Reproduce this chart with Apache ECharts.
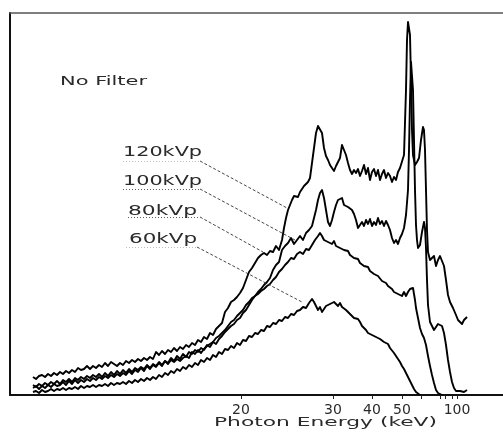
<!DOCTYPE html>
<html>
<head>
<meta charset="utf-8">
<script src="https://cdn.jsdelivr.net/npm/echarts@6/dist/echarts.min.js"></script>
<style>
  html, body { margin: 0; padding: 0; background: #fff; }
  #chart { width: 503px; height: 435px; }
</style>
</head>
<body>
<div id="chart"></div>
<script>
// Spectra as [MCA channel, relative counts]
const kvp120 = [
  [23,18],[26,16],[29,19],[32,20],[35,18],[38,21],[41,19],[44,22],[47,20],[50,23],[53,21],[56,24],[59,22],[62,25],[65,23],[68,27],[71,25],[74,26],[77,29],[80,26],[83,29],[86,27],[89,30],[92,28],[95,32],[98,29],[101,33],[104,31],[107,29],[110,32],[113,30],[116,34],[119,32],[122,35],[125,33],[128,36],[131,34],[134,37],[137,35],[140,38],[143,36],[146,43],[149,40],[152,44],[155,41],[158,45],[161,43],[164,47],[167,44],[170,48],[173,46],[176,50],[179,48],[182,52],[185,50],[188,55],[191,53],[194,58],[197,56],[200,62],[203,60],[206,66],[209,69],[212,72],[215,83],[218,87],[221,93],[224,95],[227,98],[230,102],[233,107],[236,115],[239,123],[242,127],[245,132],[248,137],[251,140],[254,142],[257,140],[260,144],[263,143],[266,149],[269,145],[272,155],[274,167],[276,177],[278,185],[280,190],[282,195],[284,199],[286,201],[288,198],[290,203],[292,205],[294,209],[296,211],[298,213],[300,217],[302,232],[304,247],[306,262],[308,269],[310,270],[312,262],[314,247],[316,239],[318,235],[320,230],[322,227],[324,224],[326,229],[328,231],[330,237],[332,250],[334,252],[336,240],[338,232],[340,225],[342,221],[344,225],[346,222],[348,226],[350,219],[352,224],[354,230],[356,221],[358,227],[360,215],[362,223],[364,226],[366,219],[368,225],[370,215],[372,221],[374,225],[376,217],[378,222],[380,219],[382,213],[384,218],[386,215],[388,223],[390,227],[392,229],[394,240],[396,305],[397,355],[398,373],[399,374],[400,360],[401,315],[402,265],[403,240],[405,230],[407,233],[409,237],[411,255],[413,268],[414,265],[415,245],[416,205],[417,165],[418,143],[420,135],[422,133],[424,139],[426,129],[428,135],[430,139],[432,138],[434,129],[436,115],[438,100],[440,93],[443,87],[446,80],[448,75],[450,73],[452,71],[454,75],[456,77],[457,78]
];
const kvp100 = [
  [23,10],[26,8],[29,11],[32,9],[35,12],[38,10],[41,13],[44,11],[47,14],[50,11],[53,15],[56,13],[59,16],[62,13],[65,17],[68,15],[71,18],[74,16],[77,19],[80,17],[83,20],[86,18],[89,21],[92,18],[95,22],[98,19],[101,23],[104,20],[107,24],[110,21],[113,25],[116,22],[119,26],[122,23],[125,27],[128,25],[131,28],[134,26],[137,30],[140,27],[143,31],[146,29],[149,33],[152,30],[155,34],[158,32],[161,37],[164,34],[167,39],[170,36],[173,41],[176,38],[179,43],[182,41],[185,45],[188,43],[191,47],[194,45],[197,50],[200,48],[203,53],[206,51],[209,56],[212,59],[215,63],[218,66],[221,69],[224,71],[227,75],[230,77],[233,82],[236,85],[239,90],[242,95],[245,99],[248,103],[251,106],[254,110],[257,113],[260,117],[263,125],[266,130],[269,133],[272,145],[275,149],[278,152],[281,157],[284,151],[287,155],[290,159],[293,155],[296,162],[299,165],[302,169],[304,177],[306,185],[308,195],[310,202],[312,205],[314,197],[316,185],[318,173],[320,169],[322,175],[324,183],[326,190],[328,195],[330,193],[332,197],[334,190],[336,192],[338,188],[340,189],[342,185],[344,181],[346,175],[348,167],[350,166],[352,173],[354,169],[356,175],[358,171],[360,176],[362,169],[364,173],[366,170],[368,177],[370,171],[372,174],[374,169],[376,174],[378,170],[380,165],[382,157],[384,152],[386,155],[388,151],[390,157],[392,161],[394,167],[396,180],[398,205],[399,245],[400,295],[401,333],[402,335],[403,305],[404,255],[405,205],[406,170],[407,155],[408,147],[410,150],[412,163],[414,173],[415,167],[416,147],[417,115],[418,90],[420,73],[422,69],[424,65],[426,67],[428,71],[430,73],[432,69],[434,62],[436,50],[438,35],[440,23],[442,13],[444,7],[446,4],[448,5],[450,4],[452,5],[454,3],[456,4],[457,5]
];
const kvp80 = [
  [23,7],[26,9],[29,6],[32,9],[35,7],[38,10],[41,8],[44,11],[47,9],[50,10],[53,13],[56,10],[59,14],[62,11],[65,15],[68,12],[71,15],[74,13],[77,16],[80,14],[83,17],[86,15],[89,18],[92,16],[95,19],[98,17],[101,20],[104,18],[107,21],[110,19],[113,22],[116,20],[119,24],[122,21],[125,25],[128,23],[131,27],[134,24],[137,29],[140,26],[143,30],[146,28],[149,32],[152,29],[155,34],[158,31],[161,35],[164,33],[167,36],[170,34],[173,37],[176,39],[179,37],[182,43],[185,41],[188,45],[191,42],[194,46],[197,49],[200,51],[203,53],[206,57],[209,59],[212,62],[215,65],[218,69],[221,73],[224,75],[227,79],[230,82],[233,85],[236,90],[239,93],[242,97],[245,99],[248,101],[251,104],[254,106],[257,109],[260,111],[263,115],[266,118],[269,123],[272,126],[275,130],[278,133],[281,137],[284,136],[287,141],[290,143],[293,141],[296,146],[299,145],[302,150],[305,155],[308,159],[310,162],[312,159],[314,155],[316,157],[318,153],[320,155],[322,151],[324,154],[326,149],[328,151],[330,147],[332,148],[334,145],[336,143],[338,144],[340,140],[342,141],[344,137],[346,135],[348,136],[350,132],[352,133],[354,129],[356,127],[358,128],[360,124],[362,125],[364,121],[366,122],[368,119],[370,118],[372,114],[374,115],[376,112],[378,109],[380,110],[382,106],[384,103],[386,105],[388,101],[390,102],[392,99],[394,103],[396,99],[398,103],[400,106],[402,108],[403,107],[404,101],[405,95],[406,87],[408,77],[410,67],[412,61],[414,57],[416,50],[418,39],[420,29],[422,20],[424,12],[426,5],[428,2],[430,1],[432,0]
];
const kvp60 = [
  [23,3],[26,4],[29,2],[32,5],[35,3],[38,4],[41,6],[44,4],[47,6],[50,5],[53,7],[56,5],[59,7],[62,6],[65,8],[68,6],[71,9],[74,7],[77,9],[80,8],[83,10],[86,8],[89,10],[92,9],[95,11],[98,9],[101,12],[104,10],[107,12],[110,11],[113,13],[116,11],[119,14],[122,12],[125,15],[128,13],[131,16],[134,14],[137,17],[140,15],[143,18],[146,16],[149,20],[152,18],[155,22],[158,20],[161,24],[164,22],[167,26],[170,24],[173,28],[176,26],[179,30],[182,28],[185,32],[188,30],[191,35],[194,33],[197,37],[200,35],[203,40],[206,38],[209,43],[212,41],[215,46],[218,45],[221,49],[224,47],[227,52],[230,50],[233,55],[236,54],[239,59],[242,58],[245,62],[248,61],[251,65],[254,64],[257,69],[260,68],[263,72],[266,71],[269,75],[272,74],[275,78],[278,77],[281,81],[284,80],[287,84],[290,85],[293,88],[296,87],[299,92],[302,96],[304,93],[306,89],[308,85],[310,88],[312,83],[314,85],[316,89],[318,87],[320,91],[322,89],[324,93],[326,91],[328,89],[330,92],[332,88],[334,89],[336,85],[338,83],[340,81],[342,79],[344,77],[346,75],[348,76],[350,73],[352,69],[354,70],[356,65],[358,62],[360,63],[362,60],[364,61],[366,58],[368,59],[370,56],[372,55],[374,53],[376,51],[378,51],[380,47],[382,45],[384,42],[386,39],[388,36],[390,33],[392,29],[394,26],[396,22],[398,18],[400,14],[402,10],[404,6],[406,3],[408,1],[410,0]
];

// Energy axis: channel positions of the calibrated ticks
const tickChannels = [231, 323, 362, 392, 447];
const tickLabels = ['20', '30', '40', '50', '100'];
const minorTickChannels = [411, 430, 435, 442];

// Curve annotations
const curveNames = ['120kVp', '100kVp', '80kVp', '60kVp'];
const labelAnchors = [[113, 243], [113, 214], [118, 184], [119, 156]];
const underlineFrom = [[113, 234], [113, 206], [118, 178], [116, 148]];
const leaderFrom = [[190, 234], [190, 206], [190, 178], [187, 148]];
const leaderTo = [[277, 187], [285, 155], [253, 143], [292, 93]];

const FONT = '"DejaVu Sans", "Liberation Sans", sans-serif';
const INK = '#2a2a2a';

const chart = echarts.init(document.getElementById('chart'), null, { renderer: 'canvas' });

const spectra = [kvp120, kvp100, kvp80, kvp60];
const underlineOpacity = [0.35, 0.85, 0.85, 0.35];

const series = spectra.map((data, i) => ({
  type: 'line',
  name: curveNames[i],
  data: data,
  showSymbol: false,
  symbol: 'none',
  silent: true,
  lineStyle: { color: '#000', width: 1.9, join: 'round' },
  z: 3,
  markLine: {
    silent: true,
    symbol: 'none',
    animation: false,
    label: { show: false },
    data: [
      [
        { coord: leaderFrom[i], lineStyle: { color: '#333', width: 1, type: [3, 2], opacity: 0.9 } },
        { coord: leaderTo[i] }
      ],
      [
        { coord: underlineFrom[i], lineStyle: { color: '#444', width: 1, type: [1, 2], opacity: underlineOpacity[i] } },
        { coord: leaderFrom[i] }
      ]
    ]
  }
}));

chart.setOption({
  animation: false,
  backgroundColor: '#fff',
  grid: { left: 10, right: 0, top: 13, bottom: 40, containLabel: false },
  xAxis: [
    {
      type: 'value', min: 0, max: 493, position: 'bottom',
      axisLine: { show: true, lineStyle: { color: '#111', width: 2 } },
      axisTick: { show: true, length: 4, inside: false, customValues: tickChannels.concat(minorTickChannels), lineStyle: { color: '#222', width: 1 } },
      axisLabel: {
        show: true, customValues: tickChannels, margin: 8,
        fontFamily: FONT, fontSize: 14, color: INK,
        formatter: v => tickLabels[tickChannels.indexOf(v)] || ''
      },
      splitLine: { show: false }
    },
    {
      type: 'value', min: 0, max: 493, position: 'top',
      axisLine: { show: true, lineStyle: { color: '#555', width: 1.5 } },
      axisTick: { show: false }, axisLabel: { show: false }, splitLine: { show: false }
    }
  ],
  yAxis: {
    type: 'value', min: 0, max: 382,
    axisLine: { show: true, lineStyle: { color: '#111', width: 2 } },
    axisTick: { show: false }, axisLabel: { show: false }, splitLine: { show: false }
  },
  series: series
});

// Wide lettering: stretch text horizontally to a given width
const measureCtx = document.createElement('canvas').getContext('2d');
function stretchedText(str, size, left, cy, width) {
  const font = size + 'px ' + FONT;
  measureCtx.font = font;
  const w = measureCtx.measureText(str).width;
  return {
    type: 'text', x: left, y: cy, scaleX: width / w, silent: true, z: 10,
    style: { text: str, font: font, fill: INK, align: 'left', verticalAlign: 'middle', textAlign: 'left', textVerticalAlign: 'middle' }
  };
}

const labelWidths = [79, 79, 69, 68];
const graphics = curveNames.map((name, i) => {
  const p = chart.convertToPixel({ gridIndex: 0 }, labelAnchors[i]);
  return stretchedText(name, 14, p[0], p[1], labelWidths[i]);
});
graphics.push(stretchedText('No Filter', 12, 60, 82, 87));
graphics.push(stretchedText('Photon Energy (keV)', 13, 214, 423, 223));

chart.setOption({ graphic: graphics });
</script>
</body>
</html>
